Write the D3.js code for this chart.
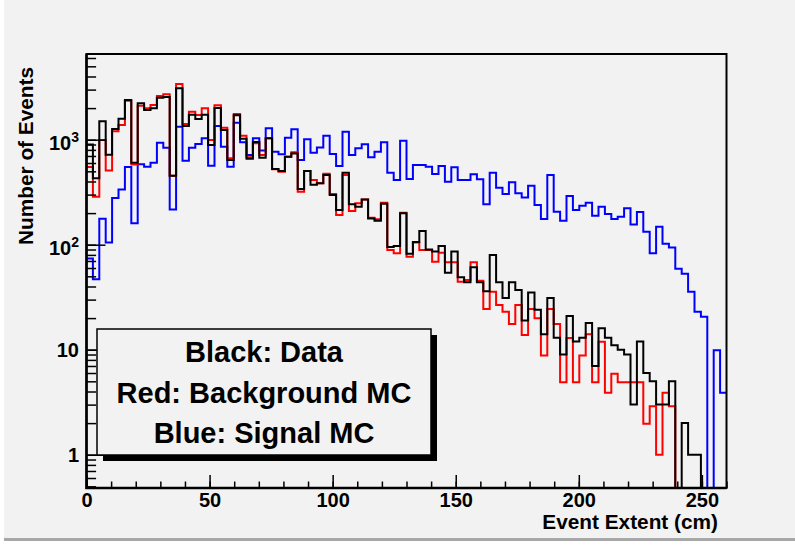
<!DOCTYPE html>
<html>
<head>
<meta charset="utf-8">
<script src="https://cdn.jsdelivr.net/npm/d3@7"></script>
<style>
  body { margin: 0; background: #ffffff; }
  text { font-family: "Liberation Sans", Arial, Helvetica, sans-serif; font-weight: bold; fill: #000; }
</style>
</head>
<body>
<div id="chart"></div>
<script>
// histogram binning: 100 bins from 0 to 260 cm
var xMin = 0, xMax = 260, nBins = 100;

// Black: Data
var dataCounts = [
  900, 429, 1497, 720, 1264, 1585, 2388, 604, 2222, 1918,
  1991, 2512, 2552, 454, 3090, 1350, 1730, 1574, 1730, 890,
  2004, 1237, 641, 1706, 1020, 660, 950, 674, 1030, 526,
  503, 689, 740, 340, 503, 373, 385, 461, 297, 214,
  485, 243, 230, 270, 178, 169, 245, 95, 97, 199,
  82, 106, 135, 90, 86, 97, 54, 86, 49, 44,
  61, 44, 36, 80, 44, 31, 44, 37, 19, 35,
  24, 14, 31, 13, 9, 21, 12, 13, 18, 7,
  16, 13, 11, 10, 9, 3, 12, 6, 5, 3,
  3, 5, 0, 2, 1, 1, 0, 0, 0, 0
];

// Red: Background MC
var bkgCounts = [
  550, 286, 993, 510, 1202, 1380, 2350, 580, 2108, 1991,
  2140, 2605, 2705, 454, 3390, 1410, 1850, 1720, 1990, 993,
  2126, 1300, 665, 1756, 1092, 680, 924, 714, 1030, 523,
  495, 689, 758, 320, 503, 413, 385, 473, 304, 192,
  461, 209, 248, 270, 181, 175, 251, 89, 83, 202,
  77, 105, 89, 89, 69, 84, 68, 68, 44.4, 46,
  68, 45.4, 24.4, 35.6, 26.7, 23, 17.6, 26.7, 13.8, 24.4,
  19.9, 8.8, 24.4, 17.6, 4.9, 12.9, 4.9, 8.8, 14, 4.9,
  11.9, 3.9, 5.9, 4.9, 4.9, 4.9, 4.9, 1.97, 2.9, 1,
  3.9, 2.9, 0, 0, 0, 0, 0, 0, 0, 0
];

// Blue: Signal MC
var sigCounts = [
  74, 47, 177, 105, 278, 335, 550, 160, 583, 553,
  604, 936, 839, 217, 1330, 631, 839, 910, 1030, 565,
  1350, 858, 553, 1452, 944, 715, 1030, 790, 1285, 769,
  726, 1045, 1257, 641, 1012, 752, 842, 1088, 731, 562,
  1191, 714, 828, 904, 680, 769, 944, 485, 413, 978,
  423, 574, 574, 553, 471, 562, 398, 546, 413, 413,
  468, 420, 243, 485, 349, 304, 393, 309, 281, 365,
  239, 176, 461, 206, 169, 291, 214, 235, 251, 189,
  230, 196, 176, 185, 222, 156, 205, 133, 83, 148,
  102, 94, 59, 53, 35.6, 23, 20.6, 0, 9.9, 3.9
];

var xMajorTicks = [0, 50, 100, 150, 200, 250];
var yMajorTicks = [1, 10, 100, 1000];
var yTickLabels = [["1", ""], ["10", ""], ["10", "2"], ["10", "3"]];
var legendLines = ["Black: Data", "Red: Background MC", "Blue: Signal MC"];
var xTitle = "Event Extent (cm)";
var yTitle = "Number of Events";

var W = 795, H = 545;
var frame = {left: 86.5, right: 726.5, top: 54, bottom: 488};
var yMin = 0.482, yMax = 6550;

var svg = d3.select("#chart")
  .append("svg")
    .attr("width", W)
    .attr("height", H);

// canvas background with bevel edges
svg.append("rect").attr("x", 0).attr("y", 0).attr("width", W).attr("height", H).attr("fill", "#ffffff");
svg.append("rect").attr("x", 4).attr("y", 0).attr("width", W - 4).attr("height", 538).attr("fill", "#f2f2f2");
svg.append("rect").attr("x", 4).attr("y", 538).attr("width", W - 4).attr("height", 3).attr("fill", "#a8a8a8");

var x = d3.scaleLinear()
    .domain([xMin, xMax])
    .range([frame.left, frame.right]);

var y = d3.scaleLog()
    .domain([yMin, yMax])
    .range([frame.bottom, frame.top]);

svg.append("clipPath")
    .attr("id", "frameClip")
  .append("rect")
    .attr("x", frame.left)
    .attr("y", frame.top)
    .attr("width", frame.right - frame.left)
    .attr("height", frame.bottom - frame.top);

var binWidth = (xMax - xMin) / nBins;

var line = d3.line()
    .x(function(d) { return x(d[0]); })
    .y(function(d) { return y(Math.max(d[1], yMin)); })
    .curve(d3.curveStepAfter);

function steps(vals) {
  var pts = vals.map(function(v, i) { return [xMin + i * binWidth, v]; });
  pts.push([xMax, vals[vals.length - 1]]);
  return pts;
}

var hists = svg.append("g").attr("clip-path", "url(#frameClip)");

[[sigCounts, "#0000ff"], [bkgCounts, "#ff0000"], [dataCounts, "#000000"]].forEach(function(h) {
  hists.append("path")
    .attr("d", line(steps(h[0])))
    .attr("fill", "none")
    .attr("stroke", h[1])
    .attr("stroke-width", 2);
});

// x axis: minor ticks every 10, major every 50
var xMinor = d3.range(xMin, xMax + 1, 10);
svg.append("g")
    .attr("transform", "translate(0," + frame.bottom + ")")
    .call(d3.axisBottom(x).tickValues(xMinor).tickSize(-6.5).tickSizeOuter(0).tickFormat(""))
    .call(function(g) { g.select(".domain").remove(); g.selectAll("line").attr("stroke-width", 1.5); });

var xAxis = svg.append("g")
    .attr("transform", "translate(0," + frame.bottom + ")")
    .call(d3.axisBottom(x).tickValues(xMajorTicks).tickSize(-13).tickSizeOuter(0).tickPadding(5)
      .tickFormat(d3.format("d")));
xAxis.select(".domain").remove();
xAxis.selectAll("line").attr("stroke-width", 1.5);
xAxis.selectAll("text")
    .attr("font-size", 20)
    .attr("font-family", null)
    .attr("fill", "#000");

// y axis: minor ticks at 2..9 x decade, major at decades
var yMinor = [];
for (var e = -1; e <= 3; e++) {
  for (var m = 1; m <= 9; m++) {
    var v = m * Math.pow(10, e);
    if (v >= yMin && v <= yMax) yMinor.push(v);
  }
}
svg.append("g")
    .attr("transform", "translate(" + frame.left + ",0)")
    .call(d3.axisLeft(y).tickValues(yMinor).tickSize(-9.6).tickSizeOuter(0).tickFormat(""))
    .call(function(g) { g.select(".domain").remove(); g.selectAll("line").attr("stroke-width", 1.5); });

var yAxis = svg.append("g")
    .attr("transform", "translate(" + frame.left + ",0)")
    .call(d3.axisLeft(y).tickValues(yMajorTicks).tickSize(-19).tickSizeOuter(0).tickFormat(""));
yAxis.select(".domain").remove();
yAxis.selectAll("line").attr("stroke-width", 1.5);

// decade labels with superscripts
yMajorTicks.forEach(function(t, i) {
  var lab = yTickLabels[i];
  var txt = svg.append("text")
      .attr("x", 79)
      .attr("y", y(t) + 7.5)
      .attr("text-anchor", "end")
      .attr("font-size", 20);
  if (lab[1]) {
    txt.attr("y", y(t) + 10.5);
    txt.append("tspan").text(lab[0]);
    txt.append("tspan").attr("font-size", 14).attr("dy", -8.5).text(lab[1]);
  } else {
    txt.text(lab[0]);
  }
});

// frame
svg.append("rect")
    .attr("x", frame.left)
    .attr("y", frame.top)
    .attr("width", frame.right - frame.left)
    .attr("height", frame.bottom - frame.top)
    .attr("fill", "none")
    .attr("stroke", "#000")
    .attr("stroke-width", 2);
svg.append("path")
    .attr("d", "M" + frame.left + "," + frame.top + "V" + frame.bottom + "H" + frame.right)
    .attr("fill", "none")
    .attr("stroke", "#000")
    .attr("stroke-width", 2.5);

// axis titles
svg.append("text")
    .attr("x", 718)
    .attr("y", 529)
    .attr("text-anchor", "end")
    .attr("font-size", 20.8)
    .text(xTitle);

svg.append("text")
    .attr("transform", "translate(33,67) rotate(-90)")
    .attr("text-anchor", "end")
    .attr("font-size", 20.8)
    .text(yTitle);

// legend box with shadow
var box = {x: 97, y: 329, w: 334, h: 126, shadow: 6};
svg.append("rect")
    .attr("x", box.x + box.shadow)
    .attr("y", box.y + box.shadow)
    .attr("width", box.w)
    .attr("height", box.h)
    .attr("fill", "#000");
svg.append("rect")
    .attr("x", box.x)
    .attr("y", box.y)
    .attr("width", box.w)
    .attr("height", box.h)
    .attr("fill", "#f2f2f2")
    .attr("stroke", "#000")
    .attr("stroke-width", 1.5);

legendLines.forEach(function(s, i) {
  svg.append("text")
      .attr("x", box.x + box.w / 2)
      .attr("y", 362 + i * 40.5)
      .attr("text-anchor", "middle")
      .attr("font-size", 29)
      .text(s);
});
</script>
</body>
</html>
